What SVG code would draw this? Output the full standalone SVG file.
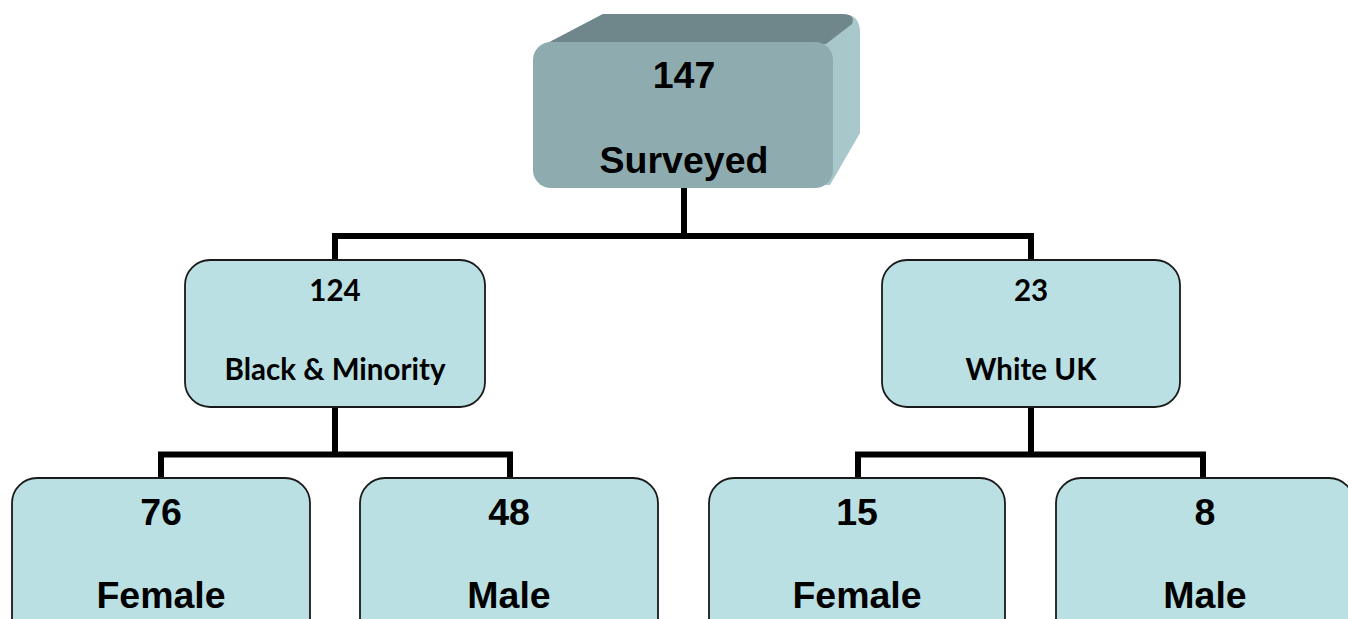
<svg xmlns="http://www.w3.org/2000/svg" width="1348" height="619" viewBox="0 0 1348 619">
<defs>
<linearGradient id="sideG" x1="0" y1="0" x2="1" y2="0">
<stop offset="0" stop-color="#9dbcbf"/>
<stop offset="1" stop-color="#a9c8cb"/>
</linearGradient>
<style>
.box{fill:#bae0e3;stroke:#1a1a1a;stroke-width:1.8}
.conn{fill:none;stroke:#000;stroke-width:6;stroke-linejoin:miter;stroke-linecap:butt}
.big{font-family:"Liberation Sans",Arial,sans-serif;font-weight:bold;font-size:37.5px;fill:#000;text-anchor:middle}
.mid{font-family:Lato,"Open Sans",sans-serif;font-weight:bold;font-size:29.5px;fill:#000;text-anchor:middle}
</style>
</defs>
<rect width="1348" height="619" fill="#fff"/>
<g id="connectors">
<path class="conn" d="M335,260 V236 H1031 V260 M684,188 V236"/>
<path class="conn" d="M161,478 V454.5 H510 V478 M335,407 V454.5"/>
<path class="conn" d="M858,478 V454.5 H1203 V478 M1031,407 V454.5"/>
</g>
<g id="node-surveyed">
<path d="M542,46 L603,14 L842,14 Q860,14 860,32 L860,133 L830,185 L540,185 Z" fill="url(#sideG)"/>
<path d="M542,46 L603,14 L842,14 Q856,14 852,24 L826,44 Z" fill="#6f878a"/>
<rect x="533" y="42" width="300" height="146" rx="18" fill="#8eacaf"/>
<text class="big" x="684" y="88">147</text>
<text class="big" x="684" y="173">Surveyed</text>
</g>
<g id="node-bme">
<rect class="box" x="185" y="260" width="300" height="147" rx="25"/>
<text class="mid" x="335" y="301">124</text>
<text class="mid" x="335" y="380">Black &amp; Minority</text>
</g>
<g id="node-white">
<rect class="box" x="882" y="260" width="298" height="147" rx="25"/>
<text class="mid" x="1031" y="301">23</text>
<text class="mid" x="1031" y="380">White UK</text>
</g>
<g id="node-bme-female">
<rect class="box" x="12" y="478" width="298" height="170" rx="25"/>
<text class="big" x="161" y="525">76</text>
<text class="big" x="161" y="608">Female</text>
</g>
<g id="node-bme-male">
<rect class="box" x="360" y="478" width="298" height="170" rx="25"/>
<text class="big" x="509" y="525">48</text>
<text class="big" x="509" y="608">Male</text>
</g>
<g id="node-white-female">
<rect class="box" x="709" y="478" width="296" height="170" rx="25"/>
<text class="big" x="857" y="525">15</text>
<text class="big" x="857" y="608">Female</text>
</g>
<g id="node-white-male">
<rect class="box" x="1056" y="478" width="298" height="170" rx="25"/>
<text class="big" x="1205" y="525">8</text>
<text class="big" x="1205" y="608">Male</text>
</g>
</svg>
